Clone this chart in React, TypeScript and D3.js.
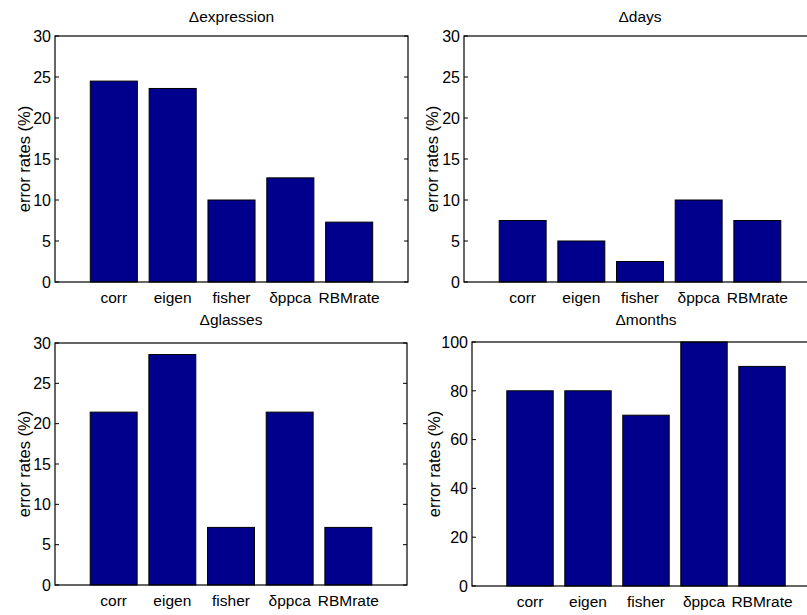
import React from "react";
import * as d3 from "d3";

const categories = ["corr", "eigen", "fisher", "δppca", "RBMrate"];
const expressionValues = [24.5, 23.6, 10.0, 12.7, 7.3];
const daysValues = [7.5, 5.0, 2.5, 10.0, 7.5];
const glassesValues = [21.43, 28.57, 7.14, 21.43, 7.14];
const monthsValues = [80, 80, 70, 100, 90];
const ticks30 = [0, 5, 10, 15, 20, 25, 30];
const ticks100 = [0, 20, 40, 60, 80, 100];
const titles = ["Δexpression", "Δdays", "Δglasses", "Δmonths"];
const yLabel = "error rates (%)";

type PanelSpec = {
  title: string;
  values: number[];
  yMax: number;
  ticks: number[];
  x0: number;
  x1: number;
  y0: number;
  y1: number;
  titleY: number;
  labelX: number;
};

const panels: PanelSpec[] = [
  { title: titles[0], values: expressionValues, yMax: 30, ticks: ticks30, x0: 55, x1: 408, y0: 36, y1: 282, titleY: 22, labelX: 30 },
  { title: titles[1], values: daysValues, yMax: 30, ticks: ticks30, x0: 464, x1: 816, y0: 36, y1: 282, titleY: 22, labelX: 438 },
  { title: titles[2], values: glassesValues, yMax: 30, ticks: ticks30, x0: 55, x1: 407, y0: 343, y1: 585, titleY: 325, labelX: 30 },
  { title: titles[3], values: monthsValues, yMax: 100, ticks: ticks100, x0: 472, x1: 820, y0: 342, y1: 586, titleY: 325, labelX: 440 },
];

const FONT = "'Liberation Sans', Arial, Helvetica, sans-serif";
const BAR = "#00008c";

function Panel({ p }: { p: PanelSpec }) {
  const x = d3.scaleLinear().domain([0, 6]).range([p.x0, p.x1]);
  const y = d3.scaleLinear().domain([0, p.yMax]).range([p.y1, p.y0]);
  const bw = 0.8;
  const cx = (p.x0 + p.x1) / 2;
  const cy = (p.y0 + p.y1) / 2;
  return (
    <g>
      {p.values.map((v, i) => (
        <rect
          key={i}
          x={x(i + 1 - bw / 2)}
          y={y(v)}
          width={x(i + 1 + bw / 2) - x(i + 1 - bw / 2)}
          height={y(0) - y(v)}
          fill={BAR}
          stroke="#000"
          strokeWidth={1}
        />
      ))}
      <rect x={p.x0} y={p.y0} width={p.x1 - p.x0} height={p.y1 - p.y0} fill="none" stroke="#000" strokeWidth={1.2} />
      {p.ticks.map((t) => (
        <g key={t}>
          <line x1={p.x0} x2={p.x0 + 4} y1={y(t)} y2={y(t)} stroke="#000" />
          <line x1={p.x1} x2={p.x1 - 4} y1={y(t)} y2={y(t)} stroke="#000" />
          <text x={p.x0 - 4} y={y(t)} dy="0.36em" textAnchor="end" fontSize={16} fontFamily={FONT} fill="#000">
            {t}
          </text>
        </g>
      ))}
      {categories.map((c, i) => (
        <text key={c} x={x(i + 1)} y={p.y1 + 21} textAnchor="middle" fontSize={15.5} fontFamily={FONT} fill="#000">
          {c}
        </text>
      ))}
      <text x={cx} y={p.titleY} textAnchor="middle" fontSize={15.5} fontFamily={FONT} fill="#000">
        {p.title}
      </text>
      <text
        transform={`translate(${p.labelX},${cy}) rotate(-90)`}
        textAnchor="middle"
        fontSize={16.5}
        fontFamily={FONT}
        fill="#000"
      >
        {yLabel}
      </text>
    </g>
  );
}

export default function App() {
  return (
    <svg
      width={807}
      height={615}
      viewBox="0 0 807 615"
      style={{ position: "absolute", left: 0, top: 0, background: "#fff" }}
    >
      <rect x={0} y={0} width={807} height={615} fill="#fff" />
      {panels.map((p, i) => (
        <Panel key={i} p={p} />
      ))}
    </svg>
  );
}
